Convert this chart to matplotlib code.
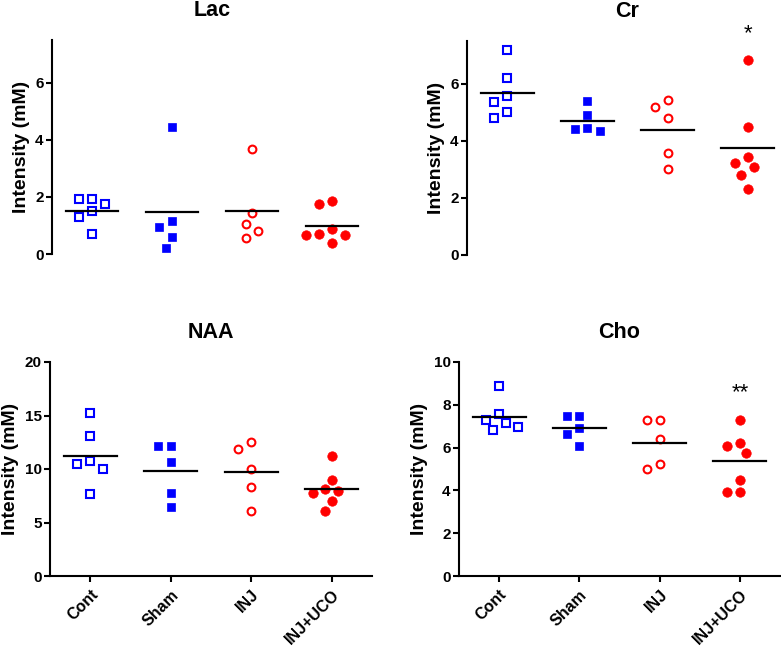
import numpy as np
import matplotlib
matplotlib.use('Agg')
import matplotlib.pyplot as plt

plt.rcParams['font.family'] = ['Liberation Sans', 'DejaVu Sans']

groups = ['Cont', 'Sham', 'INJ', 'INJ+UCO']

## Lac
lac_cont = [1.94, 1.94, 1.76, 1.51, 1.28, 0.69]
lac_sham = [4.45, 1.16, 0.96, 0.60, 0.22]
lac_inj = [3.67, 1.43, 1.06, 0.82, 0.55]
lac_inj_uco = [1.85, 1.75, 0.86, 0.70, 0.67, 0.66, 0.40]

## Cr
cr_cont = [7.17, 6.22, 5.57, 5.37, 5.02, 4.80]
cr_sham = [5.40, 4.91, 4.44, 4.42, 4.35]
cr_inj = [5.43, 5.17, 4.79, 3.59, 3.01]
cr_inj_uco = [6.83, 4.47, 3.45, 3.22, 3.07, 2.79, 2.31]

## NAA
naa_cont = [15.23, 13.04, 10.76, 10.45, 9.98, 7.68]
naa_sham = [12.17, 12.17, 10.64, 7.80, 6.49]
naa_inj = [12.48, 11.86, 9.98, 8.30, 6.12]
naa_inj_uco = [11.24, 8.97, 8.10, 7.94, 7.79, 7.01, 6.10]

## Cho
cho_cont = [8.86, 7.57, 7.30, 7.15, 6.96, 6.80]
cho_sham = [7.50, 7.46, 6.91, 6.65, 6.08]
cho_inj = [7.27, 7.27, 6.40, 5.24, 5.01]
cho_inj_uco = [7.30, 6.22, 6.08, 5.74, 4.48, 3.92, 3.92]

blue = '#0000ff'
red = '#ff0000'
styles = [
    dict(marker='s', ms=5.2, mfc='none', mec=blue, mew=1.5),
    dict(marker='s', ms=6.2, mfc=blue, mec=blue, mew=0.5),
    dict(marker='o', ms=5.6, mfc='none', mec=red, mew=1.5),
    dict(marker='o', ms=6.8, mfc=red, mec=red, mew=0.5),
]


def swarm(ax, xc, vals, d=11.0, step=6.4):
    # column scatter: push overlapping points sideways (pixel space)
    vals = np.asarray(vals, dtype=float)
    offs = np.zeros(len(vals))
    placed = []
    px_per_x = ax.transData.transform((xc + 1, 0))[0] - ax.transData.transform((xc, 0))[0]
    for i in np.argsort(-vals, kind='stable'):
        py = ax.transData.transform((xc, vals[i]))[1]
        for k in [0, -1, 1, -2, 2, -3, 3, -4, 4, -5, 5]:
            cx = k * step
            if all(np.hypot(cx - qx, py - qy) >= d for qx, qy in placed):
                break
        placed.append((cx, py))
        offs[i] = cx / px_per_x
    return offs


def panel(ax, title, data, ylim, yticks, show_x):
    ax.set_xlim(0.5, 4.5)
    ax.set_ylim(*ylim)
    for i, vals in enumerate(data):
        xc = i + 1
        offs = swarm(ax, xc, vals)
        ax.plot(xc + offs, vals, linestyle='none', clip_on=False, **styles[i])
        m = np.mean(vals)
        ax.plot([xc - 0.33, xc + 0.33], [m, m], color='black', lw=1.6)

    ax.spines['top'].set_visible(False)
    ax.spines['right'].set_visible(False)
    ax.spines['left'].set_linewidth(1.5)
    ax.spines['bottom'].set_linewidth(1.5)
    ax.set_yticks(yticks)
    ax.set_yticklabels([str(t) for t in yticks], fontsize=11, fontweight='bold')
    ax.tick_params(axis='y', width=1.5, length=4, pad=2)
    ax.set_ylabel('Intensity (mM)', fontsize=14, fontweight='bold')
    ax.set_title(title, fontsize=15.5, fontweight='bold', pad=17)
    if show_x:
        ax.set_xticks([1, 2, 3, 4])
        ax.set_xticklabels(groups, rotation=45, ha='right', rotation_mode='anchor',
                           fontsize=11.5, fontweight='bold')
        ax.tick_params(axis='x', width=1.5, length=4, pad=4)
    else:
        ax.spines['bottom'].set_visible(False)
        ax.set_xticks([])


fig = plt.figure(figsize=(7.81, 6.46), dpi=100)
W, H = 781.0, 646.0

ax1 = fig.add_axes([52 / W, 1 - 254 / H, 320 / W, 214 / H])
ax2 = fig.add_axes([467 / W, 1 - 255 / H, 321 / W, 214 / H])
ax3 = fig.add_axes([50 / W, 1 - 576 / H, 322 / W, 214 / H])
ax4 = fig.add_axes([459 / W, 1 - 576 / H, 321 / W, 214 / H])

panel(ax1, 'Lac', [lac_cont, lac_sham, lac_inj, lac_inj_uco], (0, 7.5), [0, 2, 4, 6], False)
panel(ax2, 'Cr', [cr_cont, cr_sham, cr_inj, cr_inj_uco], (0, 7.5), [0, 2, 4, 6], False)
panel(ax3, 'NAA', [naa_cont, naa_sham, naa_inj, naa_inj_uco], (0, 20), [0, 5, 10, 15, 20], True)
panel(ax4, 'Cho', [cho_cont, cho_sham, cho_inj, cho_inj_uco], (0, 10), [0, 2, 4, 6, 8, 10], True)

ax2.text(4, 7.75, '*', ha='center', va='center', fontsize=16, clip_on=False)
ax4.text(4, 8.55, '**', ha='center', va='center', fontsize=16, clip_on=False)

fig.savefig('out.png', dpi=100)
